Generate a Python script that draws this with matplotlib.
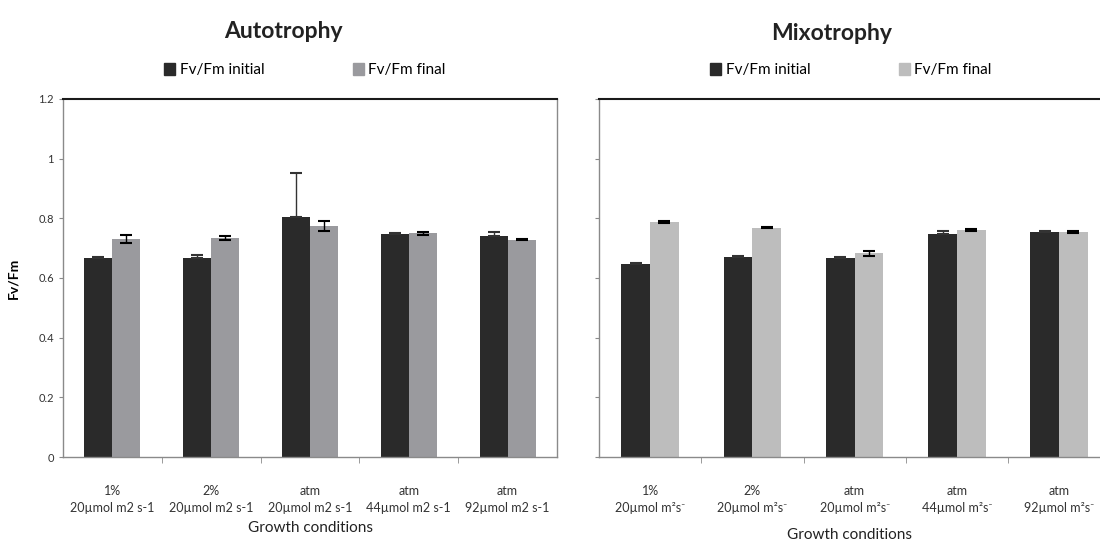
import matplotlib.pyplot as plt
import numpy as np
from matplotlib.patches import Patch

plt.rcParams['font.family'] = ['Lato', 'DejaVu Sans']

# values
auto_labels = ["1%\n20µmol m2 s-1", "2%\n20µmol m2 s-1", "atm\n20µmol m2 s-1",
               "atm\n44µmol m2 s-1", "atm\n92µmol m2 s-1"]
mixo_labels = ["1%\n20µmol m²s⁻", "2%\n20µmol m²s⁻", "atm\n20µmol m²s⁻",
               "atm\n44µmol m²s⁻", "atm\n92µmol m²s⁻"]

auto_initial = [0.666, 0.667, 0.803, 0.748, 0.741]
auto_initial_err = [0.003, 0.010, 0.150, 0.003, 0.012]
auto_final = [0.730, 0.735, 0.774, 0.750, 0.728]
auto_final_err = [0.013, 0.006, 0.017, 0.005, 0.002]

mixo_initial = [0.647, 0.671, 0.666, 0.749, 0.755]
mixo_initial_err = [0.003, 0.002, 0.003, 0.010, 0.001]
mixo_final = [0.787, 0.769, 0.683, 0.761, 0.755]
mixo_final_err = [0.004, 0.003, 0.008, 0.003, 0.004]

dark = '#2a2a2a'
auto_gray = '#9a9a9e'
mixo_gray = '#bdbdbd'
spine_gray = '#8a8a8a'

fig = plt.figure(figsize=(11, 5.47), dpi=100)
ax1 = fig.add_axes([63/1100, 1-457/547, 494/1100, 358/547])
ax2 = fig.add_axes([599/1100, 1-457/547, 501/1100, 358/547])


def draw(ax, init, init_err, fin, fin_err, labels, final_color, bw):
    x = np.arange(len(labels))
    ax.bar(x - bw/2, init, bw, color=dark, label='Fv/Fm initial', zorder=2)
    ax.bar(x + bw/2, fin, bw, color=final_color, label='Fv/Fm final', zorder=2)
    # lower half of the dark bars' error bars disappears into the bar
    ax.errorbar(x - bw/2, init, yerr=[np.zeros(len(init)), init_err], fmt='none',
                ecolor='#333333', elinewidth=1, capsize=4, capthick=1.5, zorder=3)
    ax.errorbar(x + bw/2, fin, yerr=fin_err, fmt='none', ecolor='black',
                elinewidth=1, capsize=4, capthick=1.5, zorder=3)
    ax.set_ylim(0, 1.2)
    ax.set_yticks(np.arange(0, 1.21, 0.2))
    ax.set_xticks(x)
    ax.set_xticklabels(labels, fontsize=9, color='#333333', linespacing=1.5)
    ax.set_xticks(x[:-1] + 0.5, minor=True)
    ax.tick_params(axis='x', which='major', length=0, pad=20)
    ax.tick_params(axis='x', which='minor', length=4, color=spine_gray)
    ax.tick_params(axis='y', length=3, color=spine_gray, labelsize=8, labelcolor='#333333')
    for s in ['left', 'bottom', 'right']:
        ax.spines[s].set_color(spine_gray)
        ax.spines[s].set_linewidth(1)
    ax.spines['top'].set_color('#1a1a1a')
    ax.spines['top'].set_linewidth(1.5)
    ax.set_xlabel('Growth conditions', fontsize=11, color='#222222', labelpad=5)


draw(ax1, auto_initial, auto_initial_err, auto_final, auto_final_err,
     auto_labels, auto_gray, 0.283)
ax1.set_xlim(-0.5, 4.5)
ax1.set_yticklabels(['0', '0.2', '0.4', '0.6', '0.8', '1', '1.2'])
ax1.set_ylabel('Fv/Fm', fontsize=10, fontweight='bold', labelpad=14)

draw(ax2, mixo_initial, mixo_initial_err, mixo_final, mixo_final_err,
     mixo_labels, mixo_gray, 0.28)
ax2.set_xlim(-0.5, -0.5 + 501/102.25)
ax2.set_yticklabels([])
ax2.spines['right'].set_visible(False)
ax2.xaxis.labelpad = 10

for ax, cx, fc in [(ax1, 0.49, auto_gray), (ax2, 0.503, mixo_gray)]:
    handles = [Patch(color=dark), Patch(color=fc)]
    ax.legend(handles, ['Fv/Fm initial', 'Fv/Fm final'], ncol=2, loc='center',
              bbox_to_anchor=(cx, 1 + 29/358), frameon=False, fontsize=11,
              handlelength=0.7, handleheight=0.9, handletextpad=0.3,
              columnspacing=5.8)

fig.text(283/1100, 1-31/547, 'Autotrophy', fontsize=16.5, fontweight='bold',
         ha='center', va='center', color='#222222')
fig.text(832/1100, 1-33/547, 'Mixotrophy', fontsize=16.5, fontweight='bold',
         ha='center', va='center', color='#222222')

fig.savefig('out.png', dpi=100)
